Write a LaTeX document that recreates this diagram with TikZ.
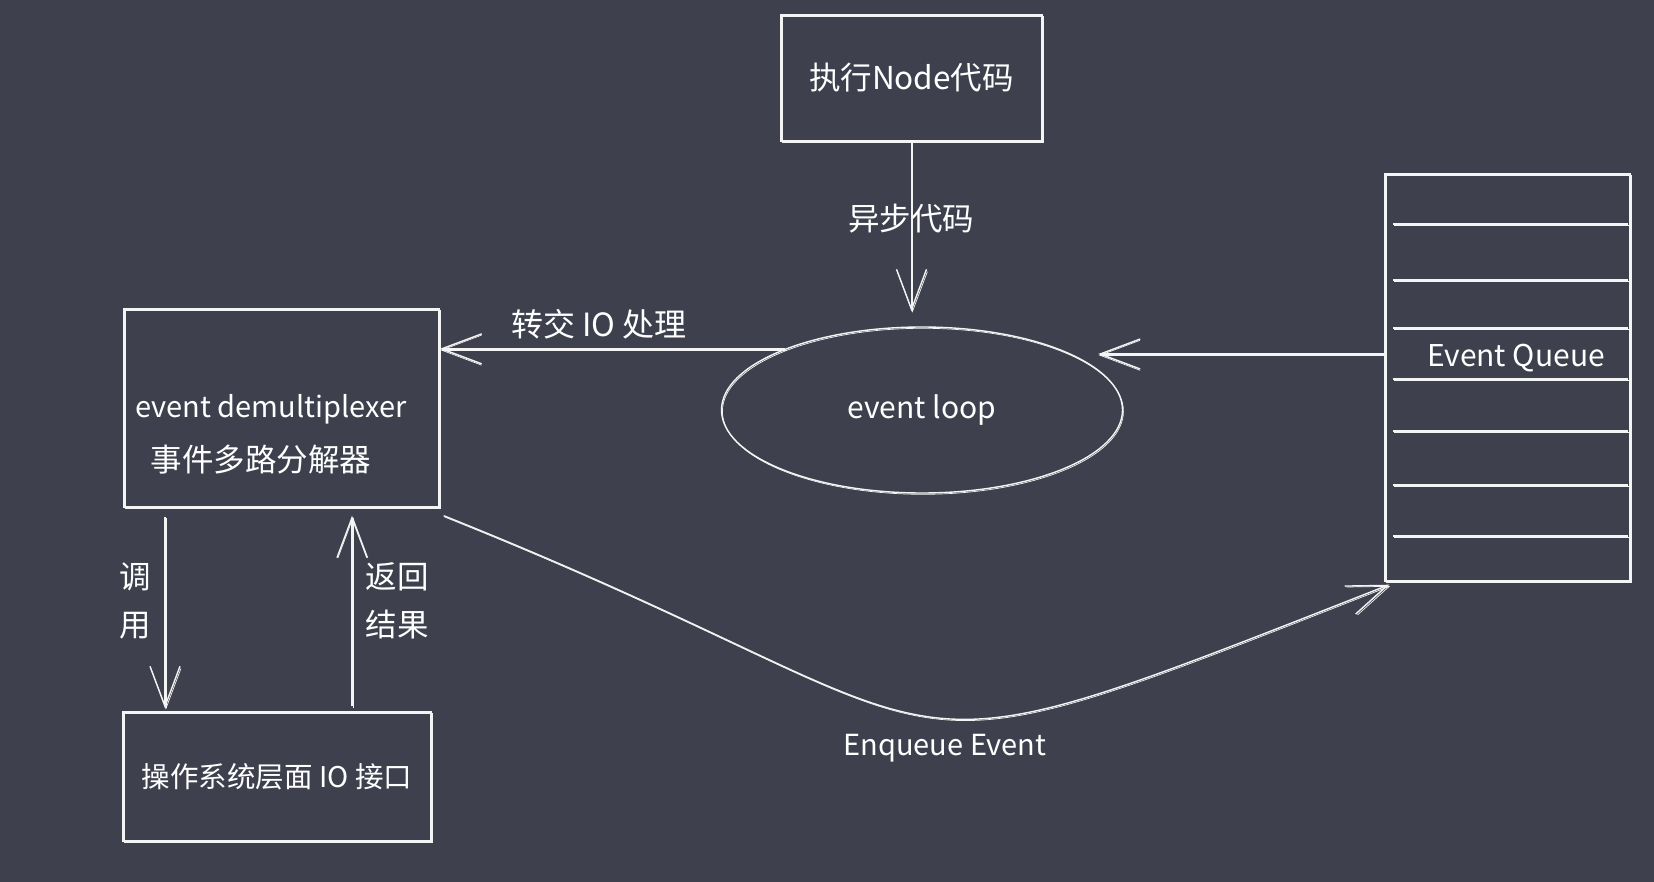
\documentclass[tikz,border=0pt]{standalone}
\usepackage{fontspec}
\setmainfont{Noto Sans CJK SC}
\usetikzlibrary{arrows.meta,shapes.geometric,calc}
\definecolor{bg}{RGB}{62,65,77}
\definecolor{lc}{RGB}{244,244,244}
\tikzset{
  sk/.style={draw=lc, line width=1.4pt,
    preaction={draw=lc, line width=0.7pt, transform canvas={shift={(0.9pt,-1.3pt)}}}},
  arr/.style={sk, -{Straight Barb[length=40pt,width=30pt]}},
  box/.style={sk, rectangle, inner sep=0pt},
  txt/.style={text=white, inner sep=0pt, font=\fontsize{30}{36}\selectfont},
}
\begin{document}
\begin{tikzpicture}[x=1pt,y=-1pt]
\fill[bg] (0,0) rectangle (1654,882);
\useasboundingbox (0,0) rectangle (1654,882);

% boxes
\node[box, minimum width=261pt, minimum height=126pt, txt, font=\fontsize{31.5}{36}\selectfont] (top) at (911.5,78) {执行Node代码};
\node[sk, ellipse, inner sep=0pt, minimum width=401pt, minimum height=166pt, txt] (loop) at (922,410) {event loop};
\node[box, minimum width=315pt, minimum height=198pt] (demux) at (281.5,408) {};
\node[txt, font=\fontsize{29}{36}\selectfont] (demuxen) at (271,409) {event demultiplexer};
\node[txt, font=\fontsize{31.5}{36}\selectfont] (demuxzh) at (261,460) {事件多路分解器};
\node[box, minimum width=308pt, minimum height=129pt, txt, font=\fontsize{28.5}{36}\selectfont] (os) at (277,776.5) {操作系统层面 IO 接口};
\node[box, minimum width=245pt, minimum height=407pt] (queue) at (1507.5,377.5) {};
\foreach \yy in {224,280,328,379,431,485,536}{
  \draw[sk] ($(queue.west|-0,\yy)+(9,0)$) -- ($(queue.east|-0,\yy)+(-3,0)$);
}
\node[txt, font=\fontsize{30}{36}\selectfont] (qtext) at (1516,358) {Event Queue};

% connectors
\draw[arr] (top.south) -- ([yshift=15pt]top.south |- loop.north);
\node[txt, font=\fontsize{31.5}{36}\selectfont] (lasync) at (911,219) {异步代码};

\draw[arr] (loop.156) -- (loop.156 -| demux.east);
\node[txt, font=\fontsize{32}{36}\selectfont] (lio) at (599,324) {转交 IO 处理};

\coordinate (qa) at ([yshift=23.5pt]queue.west);
\draw[arr] (qa) -- ([xshift=-25pt]loop.east |- qa);

\coordinate (c1) at ([xshift=-116.5pt,yshift=-9pt]demux.south);
\draw[arr] (c1) -- ([yshift=3pt]c1 |- os.north);
\node[txt, align=center, font=\fontsize{31.5}{48}\selectfont] (lcall) at (135,601) {调\\用};

\coordinate (c2) at ([xshift=75pt,yshift=5pt]os.north);
\draw[arr] (c2) -- ([yshift=-8pt]c2 |- demux.south);
\node[txt, align=center, font=\fontsize{31.5}{48}\selectfont] (lret) at (397,601) {返回\\结果};

\draw[arr] ([shift={(4pt,-8pt)}]demux.south east) .. controls (1010,742) and (840,800) .. ([shift={(5pt,-3pt)}]queue.south west);
\node[txt, font=\fontsize{29}{36}\selectfont] (lenq) at (945,748) {Enqueue Event};
\end{tikzpicture}
\end{document}
